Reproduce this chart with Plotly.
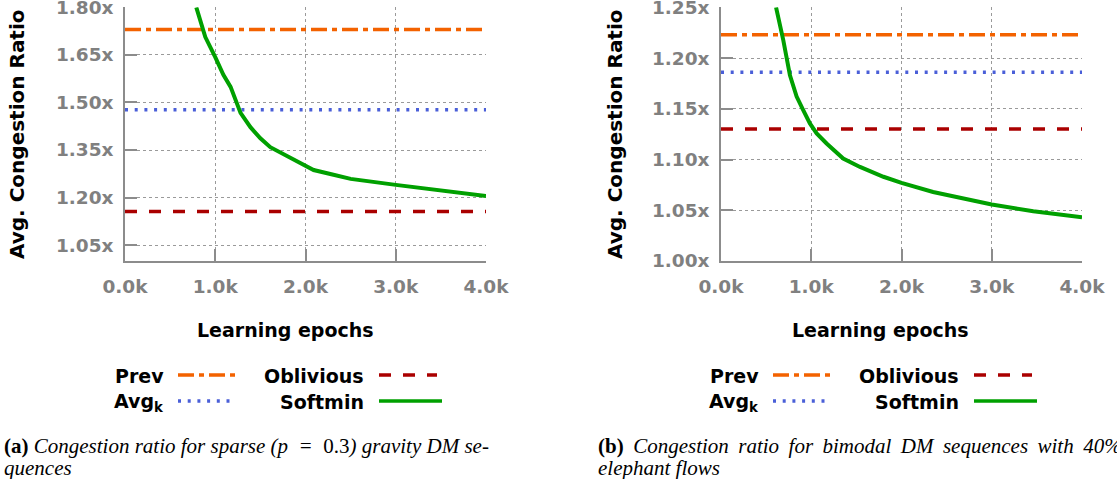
import plotly.graph_objects as go

W, H = 1117, 479

# ---------------- data ----------------
epoch_ticks = [0, 1000, 2000, 3000, 4000]
epoch_labels = ["0.0k", "1.0k", "2.0k", "3.0k", "4.0k"]

# panel (a): sparse gravity
a_yticks = [1.05, 1.20, 1.35, 1.50, 1.65, 1.80]
a_ylabels = ["1.05x", "1.20x", "1.35x", "1.50x", "1.65x", "1.80x"]
a_prev = 1.73
a_avgk = 1.477
a_oblivious = 1.156
a_soft_x = [790, 890, 1000, 1090, 1170, 1220, 1280, 1390, 1500, 1610, 1830, 2000, 2090, 2310, 2500, 3000, 3430, 4000]
a_soft_y = [1.80, 1.706, 1.643, 1.587, 1.549, 1.508, 1.467, 1.422, 1.387, 1.359, 1.325, 1.300, 1.287, 1.272, 1.259, 1.240, 1.224, 1.205]

# panel (b): bimodal
b_yticks = [1.00, 1.05, 1.10, 1.15, 1.20, 1.25]
b_ylabels = ["1.00x", "1.05x", "1.10x", "1.15x", "1.20x", "1.25x"]
b_prev = 1.223
b_avgk = 1.186
b_oblivious = 1.130
b_soft_x = [610, 690, 764, 838, 911, 985, 1060, 1170, 1354, 1540, 1800, 2000, 2350, 2720, 3000, 3460, 4000]
b_soft_y = [1.25, 1.2177, 1.183, 1.162, 1.1487, 1.1355, 1.1257, 1.1158, 1.101, 1.0927, 1.083, 1.077, 1.068, 1.0605, 1.0556, 1.049, 1.043]

series_names = ["Prev", "Avg<sub>k</sub>", "Oblivious", "Softmin"]

# ---------------- styles ----------------
C_PREV = "#f36200"
C_AVG = "#4a5fd8"
C_OBL = "#aa0000"
C_SOFT = "#00a000"
D_PREV = "16px,5px,5px,5px"
D_AVG = "3px,6.7px"
D_OBL = "12px,12px"
GREY = "#8c8c8c"
TICKFONT = dict(family="DejaVu Sans", size=18.5, color="#808080", weight="bold")
YTITLE = dict(family="DejaVu Sans", size=20, color="black", weight="bold")
XTITLE = dict(family="DejaVu Sans", size=19, color="black", weight="bold")


def px(x):
    return x / W


def py(y):
    return 1 - y / H


fig = go.Figure()

panels = [
    ("x", "y", a_prev, a_avgk, a_oblivious, a_soft_x, a_soft_y),
    ("x2", "y2", b_prev, b_avgk, b_oblivious, b_soft_x, b_soft_y),
]
for xa, ya, prev, avgk, obl, sx, sy in panels:
    xr = [epoch_ticks[0], epoch_ticks[-1]]
    fig.add_trace(go.Scatter(x=xr, y=[prev, prev], mode="lines", xaxis=xa, yaxis=ya,
                             line=dict(color=C_PREV, width=3.5, dash=D_PREV), showlegend=False))
    fig.add_trace(go.Scatter(x=xr, y=[avgk, avgk], mode="lines", xaxis=xa, yaxis=ya,
                             line=dict(color=C_AVG, width=3.5, dash=D_AVG), showlegend=False))
    fig.add_trace(go.Scatter(x=xr, y=[obl, obl], mode="lines", xaxis=xa, yaxis=ya,
                             line=dict(color=C_OBL, width=3.5, dash=D_OBL), showlegend=False))
    fig.add_trace(go.Scatter(x=sx, y=sy, mode="lines", xaxis=xa, yaxis=ya,
                             line=dict(color=C_SOFT, width=4), showlegend=False))

y_dom = [py(261), py(7.3)]
common = dict(showline=True, linecolor=GREY, linewidth=1.5, ticks="inside", ticklen=12,
              tickcolor=GREY, tickwidth=1.5, showgrid=True, gridcolor="#9a9a9a", gridwidth=1,
              griddash="dot", tickfont=TICKFONT, zeroline=False, automargin=False,
              ticklabeloverflow="allow")
common_x = dict(range=[0, 4000], tickvals=epoch_ticks, ticktext=epoch_labels,
                ticklabelstandoff=8, **common)
common_y = dict(ticklabelstandoff=6, **common)

fig.update_layout(
    width=W, height=H, margin=dict(l=0, r=0, t=0, b=0, autoexpand=False),
    paper_bgcolor="white", plot_bgcolor="white", showlegend=False,
    xaxis=dict(domain=[px(125), px(486)], anchor="y", **common_x),
    yaxis=dict(domain=y_dom, anchor="x", range=[1.0, 1.8], tickvals=a_yticks, ticktext=a_ylabels, **common_y),
    xaxis2=dict(domain=[px(721), px(1082)], anchor="y2", **common_x),
    yaxis2=dict(domain=y_dom, anchor="x2", range=[1.0, 1.25], tickvals=b_yticks, ticktext=b_ylabels, **common_y),
)

ann = []
shapes = []
# axis titles
for xc, xt in [(17, 285), (615, 880)]:
    ann.append(dict(x=px(xc), y=py(134), xref="paper", yref="paper", text="Avg. Congestion Ratio",
                    textangle=-90, showarrow=False, font=YTITLE, xanchor="center", yanchor="middle"))
    ann.append(dict(x=px(xt), y=py(330), xref="paper", yref="paper", text="Learning epochs",
                    showarrow=False, font=XTITLE, xanchor="center", yanchor="middle"))

# custom legends (text left of sample)
LEGFONT = dict(family="DejaVu Sans", size=19, color="black", weight="bold")
legend_styles = [(C_PREV, D_PREV), (C_AVG, D_AVG), (C_OBL, D_OBL), (C_SOFT, "solid")]
for off in [0, 595]:
    cols = [(166, 178, 238), (166, 178, 236), (366, 379, 437), (366, 379, 442)]
    rows = [376, 402, 376, 402]
    for name, (col, dash), (tx, l0, l1), ry in zip(series_names, legend_styles, cols, rows):
        ann.append(dict(x=px(tx + off), y=py(ry), xref="paper", yref="paper", text=name,
                        showarrow=False, font=LEGFONT, xanchor="right", yanchor="middle"))
        shapes.append(dict(type="line", xref="paper", yref="paper",
                           x0=px(l0 + off), x1=px(l1 + off), y0=py(ry - 1), y1=py(ry - 1),
                           line=dict(color=col, width=3.5, dash=dash)))

# captions
CAP = dict(family="Liberation Serif", size=21, color="black")
sp = " \u2009"
ann.append(dict(x=px(2), y=py(446), xref="paper", yref="paper", showarrow=False, font=CAP,
                xanchor="left", yanchor="middle",
                text="<b>(a)</b> <i>Congestion ratio for sparse (p  =  </i>0.3<i>) gravity DM se-</i>"))
ann.append(dict(x=px(2), y=py(468), xref="paper", yref="paper", showarrow=False, font=CAP,
                xanchor="left", yanchor="middle", text="<i>quences</i>"))
ann.append(dict(x=px(596), y=py(446), xref="paper", yref="paper", showarrow=False, font=CAP,
                xanchor="left", yanchor="middle",
                text="<b>(b)</b>" + sp + "<i>" + sp.join("Congestion ratio for bimodal DM sequences with 40%".split(" ")) + "</i>"))
ann.append(dict(x=px(596), y=py(468), xref="paper", yref="paper", showarrow=False, font=CAP,
                xanchor="left", yanchor="middle", text="<i>elephant flows</i>"))

fig.update_layout(annotations=ann, shapes=shapes)
fig.write_html("out.html", config={"displayModeBar": False},
               post_script="document.body.style.margin='0px';document.body.style.overflow='hidden';")
